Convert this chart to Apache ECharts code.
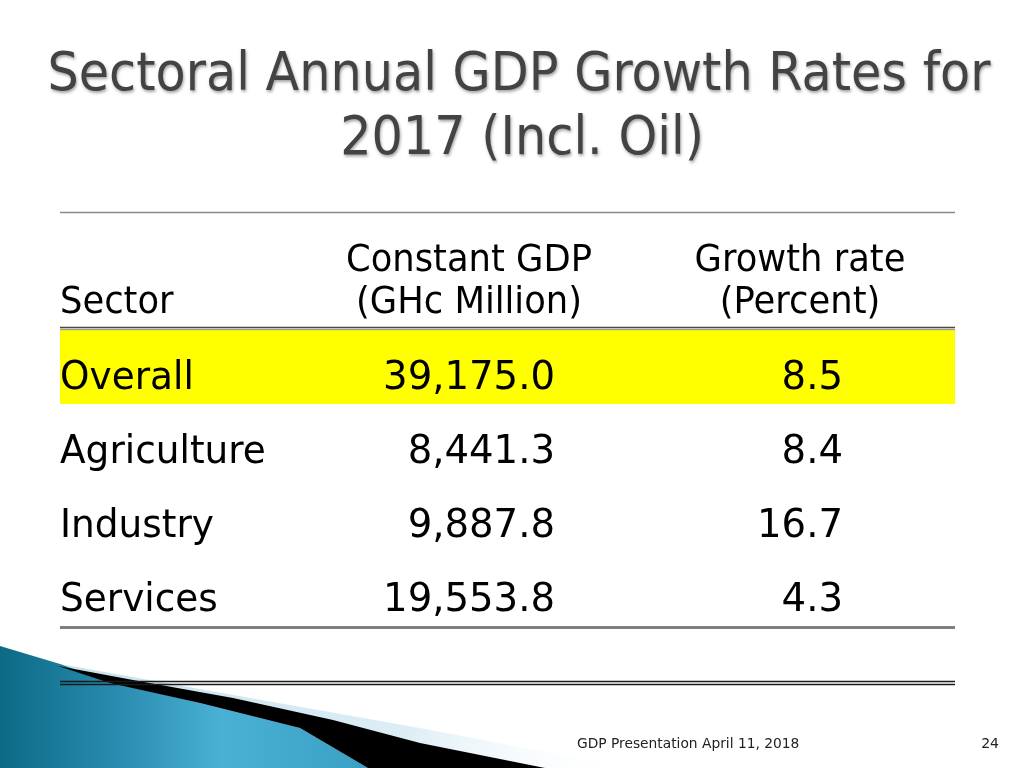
<!DOCTYPE html>
<html>
<head>
<meta charset="utf-8">
<script src="https://cdn.jsdelivr.net/npm/echarts@6/dist/echarts.min.js"></script>
<style>html,body{margin:0;padding:0;background:#fff}#c{width:1024px;height:768px}</style>
</head>
<body>
<div id="c"></div>
<script>
// ---- data ----
const titleLines = ['Sectoral Annual GDP Growth Rates for', '2017 (Incl. Oil)'];
const headerSector = 'Sector';
const headerGDP = ['Constant GDP', '(GHc Million)'];
const headerGrowth = ['Growth rate', '(Percent)'];
const sectors = ['Overall', 'Agriculture', 'Industry', 'Services'];
const constantGDP = [39175.0, 8441.3, 9887.8, 19553.8];
const growthRate = [8.5, 8.4, 16.7, 4.3];
const footerText = 'GDP Presentation April 11, 2018';
const pageNumber = '24';

const FONT = '"DejaVu Sans", Verdana, sans-serif';
const fmt1 = v => v.toLocaleString('en-US', {minimumFractionDigits: 1, maximumFractionDigits: 1});

const chart = echarts.init(document.getElementById('c'), null, {renderer: 'canvas'});

function txt(x, y, text, size, align, sx, extra) {
  return Object.assign({
    type: 'text', x: x, y: y, scaleX: sx || 1,
    style: {text: text, x: 0, y: 0, font: size + 'px ' + FONT, fill: '#000',
            align: align, verticalAlign: 'middle'}
  }, extra || {});
}
// baseline -> middle offset
const mid = (baseline, size) => baseline - size * 0.36;

const graphics = [];
// decoration bottom-left
graphics.push({
  type: 'polygon', z: 1,
  shape: {points: [[60, 664], [250, 698], [420, 728], [630, 768], [360, 768], [110, 682]]},
  style: {fill: {type: 'linear', x: 0, y: 0, x2: 1, y2: 0, colorStops: [
    {offset: 0, color: '#c9e2ee'}, {offset: 0.6, color: '#dcedf5'}, {offset: 1, color: 'rgba(255,255,255,0)'}]}}
});
graphics.push({
  type: 'polygon', z: 2,
  shape: {points: [[0, 646], [60, 664], [110, 682], [200, 703], [300, 728], [368, 768], [0, 768]]},
  style: {fill: {type: 'linear', x: 0, y: 0, x2: 1, y2: 0, colorStops: [
    {offset: 0, color: '#0c6a86'}, {offset: 0.35, color: '#2c8fb3'}, {offset: 0.6, color: '#4ab1d4'}, {offset: 1, color: '#3aa0c4'}]}}
});
graphics.push({
  type: 'polygon', z: 3,
  shape: {points: [[58, 666], [133, 680], [233, 698], [333, 720], [420, 743], [545, 768], [368, 768], [300, 728], [200, 703], [110, 683]]},
  style: {fill: '#000'}
});
// title
titleLines.forEach((t, k) => {
  const size = 54;
  graphics.push(txt(k === 0 ? 519 : 522, mid(k === 0 ? 95 : 159, size), t, size, 'center', 0.913, {
    z: 10,
    style: {text: t, x: 0, y: 0, font: size + 'px ' + FONT, fill: '#434343', align: 'center', verticalAlign: 'middle',
            textShadowColor: 'rgba(0,0,0,0.35)', textShadowBlur: 3, textShadowOffsetX: 1, textShadowOffsetY: 2}
  }));
});
// rules
const hline = (y, w, c) => ({type: 'line', z: 20, shape: {x1: 60, y1: y, x2: 955, y2: y}, style: {stroke: c, lineWidth: w}});
graphics.push(hline(212.5, 1.5, '#8a8a8a'));
graphics.push(hline(327.5, 1.5, '#4a4a3a'));
graphics.push(hline(329.5, 1.5, '#a0a090'));
graphics.push(hline(627.5, 3, '#7f7f7f'));
graphics.push(hline(681.5, 1.5, '#1a1a1a'));
graphics.push(hline(684.5, 1.5, '#1a1a1a'));
// headers
const HS = 38, HSX = 0.93;
graphics.push(txt(60, mid(317, HS), headerSector, HS, 'left', HSX, {z: 10}));
headerGDP.forEach((t, k) => graphics.push(txt(469, mid(k ? 317 : 275, HS), t, HS, 'center', HSX, {z: 10})));
headerGrowth.forEach((t, k) => graphics.push(txt(800, mid(k ? 317 : 275, HS), t, HS, 'center', HSX, {z: 10})));
// footer
graphics.push(txt(577, mid(749, 14), footerText, 14, 'left', 0.985, {z: 10, style: {text: footerText, x: 0, y: 0, font: '14px ' + FONT, fill: '#222', align: 'left', verticalAlign: 'middle'}}));
graphics.push(txt(999, mid(749, 14), pageNumber, 14, 'right', 1, {z: 10, style: {text: pageNumber, x: 0, y: 0, font: '14px ' + FONT, fill: '#222', align: 'right', verticalAlign: 'middle'}}));

const BS = 39;
chart.setOption({
  animation: false,
  backgroundColor: '#fff',
  grid: {left: 0, right: 0, top: 338, height: 296},
  xAxis: {type: 'value', min: 0, max: 1, show: false},
  yAxis: {type: 'category', data: sectors, inverse: true, show: false},
  graphic: graphics,
  series: [{
    type: 'custom',
    z: 5,
    data: sectors.map((s, i) => [0, i]),
    renderItem: function (params, api) {
      const i = api.value(1);
      const cy = api.coord([0, i])[1];
      const band = api.size([0, 1])[1];
      const base = cy + 18;
      const children = [];
      if (i === 0) {
        children.push({type: 'rect', shape: {x: 60, y: cy - 45, width: 895, height: band}, style: {fill: '#ffff00'}});
      }
      const mk = (x, t, align, sx) => ({
        type: 'text', x: x, y: mid(base, BS), scaleX: sx,
        style: {text: t, x: 0, y: 0, font: BS + 'px ' + FONT, fill: '#000', align: align, verticalAlign: 'middle'}
      });
      children.push(mk(60, sectors[i], 'left', 0.96));
      children.push(mk(555, fmt1(constantGDP[i]), 'right', 0.99));
      children.push(mk(843, fmt1(growthRate[i]), 'right', 0.99));
      return {type: 'group', children: children};
    }
  }]
});
</script>
</body>
</html>
